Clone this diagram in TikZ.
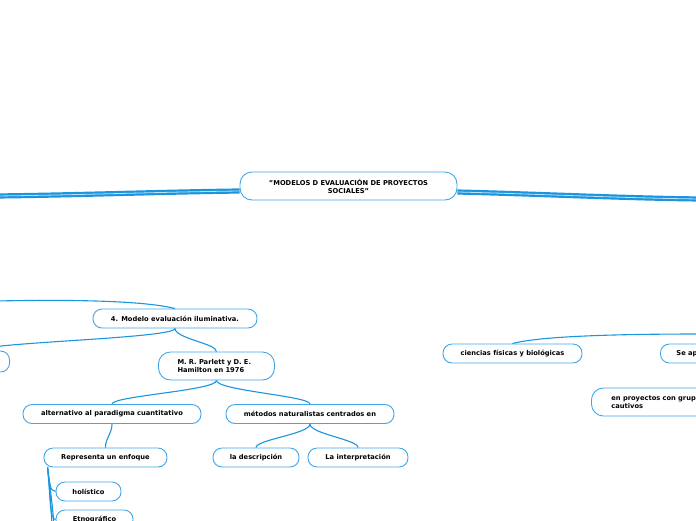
\documentclass[tikz,border=0pt]{standalone}
\usepackage{fontspec}
\setmainfont{DejaVu Sans}
\definecolor{mapline}{RGB}{27,150,222}
\definecolor{mapedge}{RGB}{64,166,232}
\begin{document}
\begin{tikzpicture}[x=1pt, y=-1pt,
  topic/.style={draw=mapedge, line width=0.9pt, fill=white, rounded corners=9pt,
    minimum height=19pt, inner sep=2pt, font=\fontsize{6.7}{8}\selectfont\bfseries},
  topictwo/.style={topic, minimum height=28pt, rounded corners=12pt},
  link/.style={draw=mapline, line width=1.1pt},
  trunk/.style={draw=mapline, line width=2.2pt, double=mapline!30, double distance=0.8pt}]
  \useasboundingbox (0,0) rectangle (696,520);
  \clip (0,0) rectangle (696,520);

  % central topic
  \node[topictwo, minimum width=217pt, align=center] (hub) at (348.5,186)
    {"MODELOS D EVALUACIÓN DE PROYECTOS\\SOCIALES"};
  \coordinate (westend) at (-4,196);
  \coordinate (eastend) at (700,199);

  % left branch
  \node[topic, minimum width=164pt] (modelo) at (175,318.5) {4. Modelo evaluación iluminativa.};
  \coordinate (westtop) at (-4,301);
  \node[topic, minimum width=60pt, minimum height=21pt, anchor=east] (leftcut) at (10,361.5) {};
  \node[topictwo, text width=78pt, inner xsep=19pt, align=left] (parlett) at (216.5,366)
    {M. R. Parlett y D. E.\\Hamilton en 1976};
  \node[topic, minimum width=178pt] (alt) at (112,414) {alternativo al paradigma cuantitativo};
  \node[topic, minimum width=168pt] (metodos) at (310,414) {métodos naturalistas centrados en};
  \node[topic, minimum width=123pt] (repr) at (105.5,457.5) {Representa un enfoque};
  \node[topic, minimum width=86pt] (desc) at (256,457.5) {la descripción};
  \node[topic, minimum width=100pt] (interp) at (358,457.5) {La interpretación};
  \node[topic, minimum width=65pt] (holis) at (88.5,491.5) {holístico};
  \node[topic, minimum width=77pt] (etno) at (94.5,519.5) {Etnográfico};
  \coordinate (down1) at (52,530);
  \coordinate (down2) at (54,530);

  % right branch
  \node[topic, minimum width=139pt] (ciencias) at (512.5,353.5) {ciencias físicas y biológicas};
  \coordinate (easttop) at (700,334);
  \node[topic, text width=70pt, inner xsep=16pt, align=left, anchor=west] (seap) at (660,353.5) {Se ap};
  \node[topictwo, text width=110pt, inner xsep=20pt, align=left, anchor=west] (grupos) at (591,402)
    {en proyectos con grup\\cautivos};

  % connectors
  \draw[trunk] ([yshift=-5pt]hub.west) .. controls (160,192) and (80,195) .. (westend);
  \draw[trunk] ([yshift=-6pt]hub.east) .. controls (540,194) and (620,198) .. (eastend);
  \draw[link] (modelo.north) .. controls (150,302) and (90,299) .. (westtop);
  \draw[link] (modelo.south) .. controls +(0,10) and +(0,-8) .. (leftcut.north);
  \draw[link] (modelo.south) .. controls +(0,10) and +(0,-8) .. (parlett.north);
  \draw[link] (parlett.south) .. controls +(0,10) and +(0,-8) .. (alt.north);
  \draw[link] (parlett.south) .. controls +(0,10) and +(0,-8) .. (metodos.north);
  \draw[link] (alt.south) .. controls +(0,10) and +(0,-10) .. (repr.north);
  \draw[link] (metodos.south) .. controls +(0,10) and +(0,-8) .. (desc.north);
  \draw[link] (metodos.south) .. controls +(0,10) and +(0,-8) .. (interp.north);
  \draw[link] ([xshift=4pt]repr.south west) .. controls +(2,14) and +(-6,0) .. (holis.west);
  \draw[link] ([xshift=4pt]repr.south west) .. controls +(3,30) and +(-6,0) .. (etno.west);
  \draw[link] ([xshift=4pt]repr.south west) .. controls +(3,30) and +(0,-10) .. (down1);
  \draw[link] ([xshift=4pt]repr.south west) .. controls +(4,30) and +(0,-10) .. (down2);
  \draw[link] (ciencias.north) .. controls (540,336) and (620,334) .. (easttop);
\end{tikzpicture}
\end{document}
